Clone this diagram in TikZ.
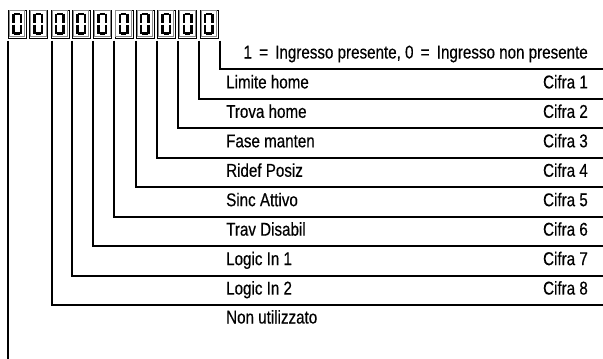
\documentclass[tikz,border=0pt]{standalone}
\usepackage{fontspec}
\setmainfont{Liberation Sans}[FakeStretch=0.82,FakeBold=0.4]
\begin{document}
\begin{tikzpicture}[x=1pt,y=-1pt,
  digitbox/.style={draw=black, line width=0.6pt, minimum width=18pt, minimum height=28.5pt, inner sep=0pt, anchor=north west},
  innerframe/.style={draw=black!45, line width=0.7pt},
  seg/.style={line width=2.5pt, black},
  conn/.style={line width=2pt, black, line join=miter},
  lab/.style={inner sep=0pt, font=\fontsize{18.5}{21}\selectfont},
]
\useasboundingbox (0,0) rectangle (603,359);
% digit boxes
\foreach \i in {1,...,10}{
  \pgfmathsetmacro{\bx}{8+21.3*(\i-1)}
  \node[digitbox] (d\i) at (\bx,9.5) {};
  \draw[innerframe] (\bx+1.3,10.8) rectangle (\bx+16.7,36.7);
  \draw[seg] (\bx+6.4,14) -- (\bx+11.9,14);
  \draw[seg] (\bx+6.4,33.7) -- (\bx+11.9,33.7);
  \draw[seg] (\bx+5.4,13.6) -- (\bx+5.4,23.3);
  \draw[seg] (\bx+5.4,24.5) -- (\bx+5.4,34.1);
  \draw[seg] (\bx+12.9,13.6) -- (\bx+12.9,23.3);
  \draw[seg] (\bx+12.9,24.5) -- (\bx+12.9,34.1);
}
% connector coordinates
\coordinate (v1) at (8.3,40.5);
\coordinate (b1) at (8.3,359);
\foreach \k/\x in {3/51.7,4/72.3,5/93.2,6/114.3,7/135.6,8/156.8,9/178.2,10/199.2}{
  \coordinate (v\k) at (\x,40.5);
}
\coordinate (v11) at (220,40.5);
% rows
\foreach \r in {0,...,8}{
  \coordinate (e\r) at (603,{69.4+29.45*\r});
}
\draw[conn] (v1) -- (b1);
\draw[conn] (v11) |- (e0);
\draw[conn] (v10) |- (e1);
\draw[conn] (v9) |- (e2);
\draw[conn] (v8) |- (e3);
\draw[conn] (v7) |- (e4);
\draw[conn] (v6) |- (e5);
\draw[conn] (v5) |- (e6);
\draw[conn] (v4) |- (e7);
\draw[conn] (v3) |- (e8);
% texts
\node[lab, anchor=base east] (hdr) at (588,58.5) {1\hspace{3pt} = \hspace{3pt}Ingresso presente, 0\hspace{3pt} = \hspace{3pt}Ingresso non presente};
\foreach \r/\name in {1/Limite home,2/Trova home,3/Fase manten,4/Ridef Posiz,5/Sinc Attivo,6/Trav Disabil,7/Logic In 1,8/Logic In 2}{
  \node[lab, anchor=base west] (n\r) at (226,{69.4+29.45*(\r-1)+19}) {\name};
  \node[lab, anchor=base east] (c\r) at (588,{69.4+29.45*(\r-1)+19}) {Cifra \r};
}
\node[lab, anchor=base west] (n9) at (226,{69.4+29.45*8+18.5}) {Non utilizzato};
\end{tikzpicture}
\end{document}
